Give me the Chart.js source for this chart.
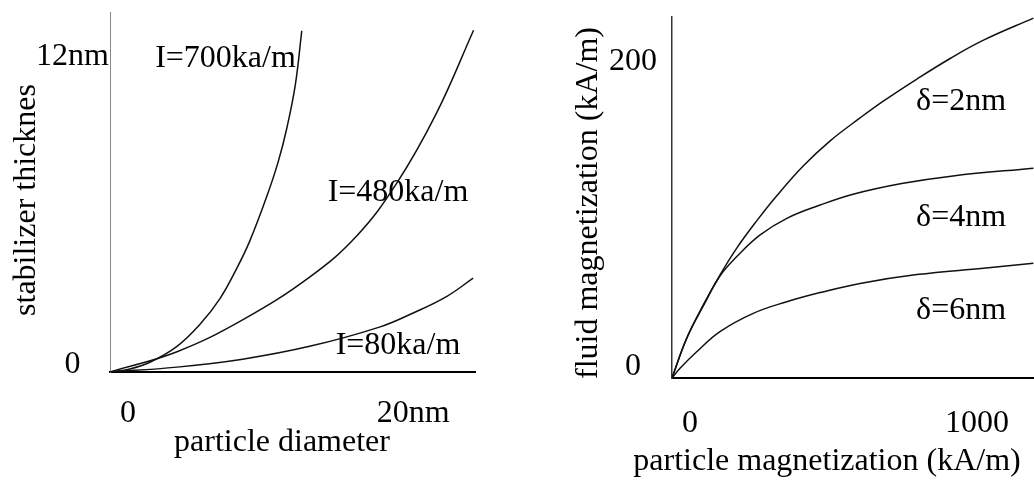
<!DOCTYPE html>
<html>
<head>
<meta charset="utf-8">
<script src="https://cdn.jsdelivr.net/npm/chart.js@4.4.1/dist/chart.umd.min.js"></script>
<style>
  html, body { margin: 0; padding: 0; background: #fff; overflow: hidden; }
  #wrap { position: relative; width: 1034px; height: 485px; background: #fff; }
  #c1 { position: absolute; left: 0; top: 0; }
  #c2 { position: absolute; left: 517px; top: 0; }
</style>
</head>
<body>
<div id="wrap">
  <canvas id="c1" width="517" height="485"></canvas>
  <canvas id="c2" width="517" height="485"></canvas>
</div>
<script>
// ---------------- Left chart: particle diameter (nm) vs stabilizer thickness (nm)
const diameterTicks = [0, 20];
const diameterTickLabels = ['0', '20nm'];
const thicknessTicks = [0, 12];
const thicknessTickLabels = ['0', '12nm'];
const leftXTitle = 'particle diameter';
const leftYTitle = 'stabilizer thicknes';

const seriesLeftNames = ['I=700ka/m', 'I=480ka/m', 'I=80ka/m'];
const d700 = [0, 1.4, 2.8, 4.7, 6.3, 7.7, 8.9, 9.8, 11.0, 11.8, 12.4, 13.0, 13.45];
const t700 = [0, 0.12, 0.38, 1.0, 1.85, 2.85, 4.05, 5.1, 6.85, 8.2, 9.5, 11.2, 13.3];
const d480 = [0, 4.7, 9.3, 14.0, 17.3, 20.1, 22.9, 25.5];
const t480 = [0, 0.79, 2.03, 3.7, 5.3, 7.35, 10.09, 13.32];
const d80 = [0, 4.7, 9.3, 14.0, 18.95, 21.26, 23.63, 25.47];
const t80 = [0, 0.19, 0.5, 1.0, 1.76, 2.3, 2.95, 3.66];

// ---------------- Right chart: particle magnetization vs fluid magnetization (kA/m)
const particleMagTicks = [0, 1000];
const particleMagTickLabels = ['0', '1000'];
const fluidMagTicks = [0, 200];
const fluidMagTickLabels = ['0', '200'];
const rightXTitle = 'particle magnetization (kA/m)';
const rightYTitle = 'fluid magnetization (kA/m)';

const seriesRightNames = ['\u03b4=2nm', '\u03b4=4nm', '\u03b4=6nm'];
const m2 = [0, 51, 109, 167, 225, 295, 365, 457, 551, 655, 736, 853, 969, 1085, 1259];
const f2 = [0, 26.0, 47.9, 67.5, 85.0, 103.0, 119.5, 139.0, 155.5, 170.5, 181.5, 196.0, 209.5, 221.5, 236.0];
const m4 = [0, 51, 109, 167, 225, 307, 400, 516, 631, 800, 979, 1259];
const f4 = [0, 25.9, 47.2, 66.9, 79.5, 93.8, 104.7, 113.4, 120.5, 127.5, 132.5, 137.6];
const m6 = [0, 28, 86, 167, 283, 400, 516, 655, 853, 1085, 1259];
const f6 = [0, 6.4, 17.2, 30.4, 42.4, 50.0, 56.0, 62.0, 67.8, 72.0, 75.2];

// ---------------- helpers
const FONT_FAMILY = '"Liberation Serif", "Times New Roman", Times, serif';
const FONT_SIZE = 32;
const pts = (xs, ys) => xs.map((x, i) => ({ x: x, y: ys[i] }));

const lineDs = (label, xs, ys) => ({
  label: label,
  data: pts(xs, ys),
  borderColor: '#111',
  borderWidth: 1.5,
  pointRadius: 0,
  fill: false,
  tension: 0.4
});

const textPlugin = {
  id: 'textPlugin',
  afterDraw(chart, args, opts) {
    const ctx = chart.ctx;
    const xs = chart.scales.x, ys = chart.scales.y;
    ctx.save();
    ctx.fillStyle = '#000';
    ctx.font = FONT_SIZE + 'px ' + FONT_FAMILY;
    ctx.textAlign = 'center';
    ctx.textBaseline = 'middle';
    (opts.labels || []).forEach(l => {
      ctx.fillText(l.text, xs.getPixelForValue(l.x), ys.getPixelForValue(l.y));
    });
    if (opts.xTitle) {
      ctx.fillText(opts.xTitle.text, opts.xTitle.cx, opts.xTitle.cy);
    }
    if (opts.yTitle) {
      ctx.translate(opts.yTitle.cx, opts.yTitle.cy);
      ctx.rotate(-Math.PI / 2);
      ctx.fillText(opts.yTitle.text, 0, 0);
    }
    ctx.restore();
  }
};

function makeAxis(cfg) {
  return {
    type: 'linear',
    min: cfg.min,
    max: cfg.max,
    grid: { display: false, drawTicks: false },
    border: { display: true, color: cfg.borderColor, width: cfg.borderWidth },
    afterBuildTicks: (scale) => { scale.ticks = cfg.ticks.map(v => ({ value: v })); },
    afterFit: (scale) => {
      if (cfg.width) scale.width = cfg.width;
      if (cfg.height) scale.height = cfg.height;
      scale.paddingTop = 0; scale.paddingBottom = 0;
      scale.paddingLeft = 0; scale.paddingRight = 0;
    },
    ticks: {
      autoSkip: false,
      color: '#000',
      font: { family: FONT_FAMILY, size: FONT_SIZE },
      padding: cfg.padding,
      labelOffset: cfg.labelOffset,
      crossAlign: cfg.crossAlign || 'near',
      maxRotation: 0,
      minRotation: 0,
      callback: (value) => cfg.labels[cfg.ticks.indexOf(value)]
    }
  };
}

const commonPlugins = {
  legend: { display: false },
  tooltip: { enabled: false },
  title: { display: false }
};

// Left chart
new Chart(document.getElementById('c1'), {
  type: 'line',
  data: {
    datasets: [
      lineDs(seriesLeftNames[0], d700, t700),
      lineDs(seriesLeftNames[1], d480, t480),
      lineDs(seriesLeftNames[2], d80, t80)
    ]
  },
  options: {
    responsive: false,
    animation: false,
    events: [],
    layout: { padding: { top: 12, right: 42, left: 0, bottom: 0 } },
    scales: {
      x: makeAxis({ min: 0, max: 25.6, ticks: diameterTicks, labels: diameterTickLabels,
                    borderColor: '#000', borderWidth: 2, height: 113, padding: 22, labelOffset: 18 }),
      y: makeAxis({ min: 0, max: 14.03, ticks: thicknessTicks, labels: thicknessTickLabels,
                    borderColor: '#888', borderWidth: 1, width: 110, padding: 1, labelOffset: -7,
                    crossAlign: 'center' })
    },
    plugins: Object.assign({}, commonPlugins, {
      textPlugin: {
        labels: [
          { text: seriesLeftNames[0], x: 8.1, y: 12.2 },
          { text: seriesLeftNames[1], x: 20.2, y: 7.01 },
          { text: seriesLeftNames[2], x: 20.2, y: 1.01 }
        ],
        xTitle: { text: leftXTitle, cx: 282, cy: 443 },
        yTitle: { text: leftYTitle, cx: 27, cy: 200 }
      }
    })
  },
  plugins: [textPlugin]
});

// Right chart
new Chart(document.getElementById('c2'), {
  type: 'line',
  data: {
    datasets: [
      lineDs(seriesRightNames[0], m2, f2),
      lineDs(seriesRightNames[1], m4, f4),
      lineDs(seriesRightNames[2], m6, f6)
    ]
  },
  options: {
    responsive: false,
    animation: false,
    events: [],
    layout: { padding: { top: 17, right: 0, left: 0, bottom: 0 } },
    scales: {
      x: makeAxis({ min: 0, max: 1261, ticks: particleMagTicks, labels: particleMagTickLabels,
                    borderColor: '#000', borderWidth: 2, height: 107, padding: 26, labelOffset: 18 }),
      y: makeAxis({ min: 0, max: 236.7, ticks: fluidMagTicks, labels: fluidMagTickLabels,
                    borderColor: '#333', borderWidth: 1.5, width: 155, padding: 15, labelOffset: -11,
                    crossAlign: 'center' })
    },
    plugins: Object.assign({}, commonPlugins, {
      textPlugin: {
        labels: [
          { text: seriesRightNames[0], x: 1007, y: 181 },
          { text: seriesRightNames[1], x: 1007, y: 105.2 },
          { text: seriesRightNames[2], x: 1007, y: 43.9 }
        ],
        xTitle: { text: rightXTitle, cx: 310, cy: 462 },
        yTitle: { text: rightYTitle, cx: 72, cy: 203 }
      }
    })
  },
  plugins: [textPlugin]
});
</script>
</body>
</html>
